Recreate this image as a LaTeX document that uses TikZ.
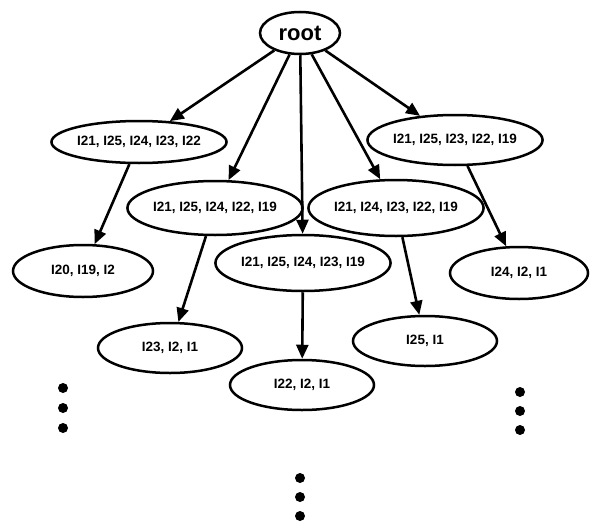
\documentclass[tikz,border=0pt]{standalone}
\usepackage{fontspec}
\setmainfont{Liberation Sans}
\usetikzlibrary{shapes.geometric,arrows.meta}
\begin{document}
\begin{tikzpicture}[x=1pt,y=-1pt,
  set/.style={ellipse,draw,line width=2.5pt,inner sep=0pt,minimum width=144pt,minimum height=52pt,font=\fontsize{13.5}{15}\selectfont\bfseries},
  arr/.style={line width=2.6pt,-{Triangle[length=14pt,width=12pt]},shorten >=0pt},
  dotc/.style={circle,fill,inner sep=0pt,minimum size=10pt}]
\useasboundingbox (0,0) rectangle (591,527);
\node[ellipse,draw,line width=2.5pt,inner sep=0pt,minimum width=80pt,minimum height=42pt,font=\fontsize{22}{24}\selectfont\bfseries] (root) at (300,33) {root};
\node[set,minimum height=42pt] (a) at (139,142) {I21, I25, I24, I23, I22};
\node[set,minimum height=50pt] (b) at (455,140) {I21, I25, I23, I22, I19};
\node[set,minimum height=54pt] (c) at (215,208) {I21, I25, I24, I22, I19};
\node[set,minimum height=56pt] (d) at (303,263) {I21, I25, I24, I23, I19};
\node[set,minimum height=56pt] (e) at (396,208) {I21, I24, I23, I22, I19};
\node[set,minimum width=140pt] (f) at (83,271) {I20, I19, I2};
\node[set,minimum width=138pt] (g) at (519,273) {I24, I2, I1};
\node[set,minimum height=50pt] (h) at (170,348) {I23, I2, I1};
\node[set,minimum height=50pt] (i) at (302,385) {I22, I2, I1};
\node[set,minimum height=50pt] (j) at (425,341) {I25, I1};
\draw[arr] (root) -- (a);
\draw[arr] (root) -- (c);
\draw[arr] (root) -- (d);
\draw[arr] (root) -- (e);
\draw[arr] (root) -- (b);
\draw[arr] (a) -- (f);
\draw[arr] (c) -- (h);
\draw[arr] (d) -- (i);
\draw[arr] (e) -- (j);
\draw[arr] (b) -- (g);
\node[dotc] (l1) at (63,388) {};
\node[dotc] (l2) at (63,408) {};
\node[dotc] (l3) at (63,428) {};
\node[dotc] (r1) at (520,392) {};
\node[dotc] (r2) at (520,411) {};
\node[dotc] (r3) at (520,430) {};
\node[dotc] (m1) at (300,478) {};
\node[dotc] (m2) at (300,497) {};
\node[dotc] (m3) at (300,516) {};
\end{tikzpicture}
\end{document}
